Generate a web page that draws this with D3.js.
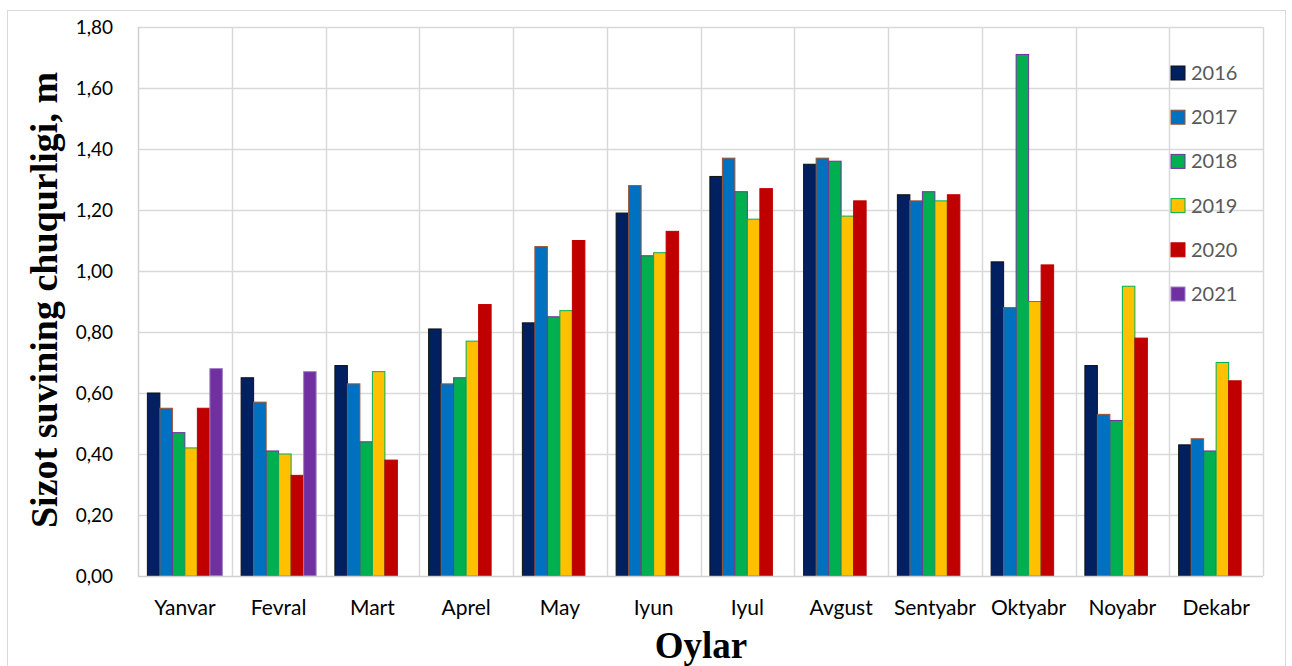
<!DOCTYPE html>
<html>
<head>
<meta charset="utf-8">
<script src="https://cdn.jsdelivr.net/npm/d3@7"></script>
<style>
  body { margin: 0; background: #fff; }
  svg text { font-family: Lato, "Open Sans", sans-serif; }
</style>
</head>
<body>
<svg id="chart" width="1292" height="666"></svg>
<script>
(function() {

const months = ['Yanvar', 'Fevral', 'Mart', 'Aprel', 'May', 'Iyun', 'Iyul', 'Avgust', 'Sentyabr', 'Oktyabr', 'Noyabr', 'Dekabr'];
const years = ['2016', '2017', '2018', '2019', '2020', '2021'];

const v2016 = [0.60, 0.65, 0.69, 0.81, 0.83, 1.19, 1.31, 1.35, 1.25, 1.03, 0.69, 0.43];
const v2017 = [0.55, 0.57, 0.63, 0.63, 1.08, 1.28, 1.37, 1.37, 1.23, 0.88, 0.53, 0.45];
const v2018 = [0.47, 0.41, 0.44, 0.65, 0.85, 1.05, 1.26, 1.36, 1.26, 1.71, 0.51, 0.41];
const v2019 = [0.42, 0.40, 0.67, 0.77, 0.87, 1.06, 1.17, 1.18, 1.23, 0.90, 0.95, 0.70];
const v2020 = [0.55, 0.33, 0.38, 0.89, 1.10, 1.13, 1.27, 1.23, 1.25, 1.02, 0.78, 0.64];
const v2021 = [0.68, 0.67, null, null, null, null, null, null, null, null, null, null];

const yTicks = [0, 0.2, 0.4, 0.6, 0.8, 1.0, 1.2, 1.4, 1.6, 1.8];

const fills = ['#002060', '#0070c0', '#00b050', '#ffc000', '#c00000', '#7030a0'];
const strokes = ['#111111', '#a0522d', '#7030a0', '#00b050', '#c00000', '#9f7fc4'];

const seriesVals = [v2016, v2017, v2018, v2019, v2020, v2021];

var svg = d3.select('#chart');

// outer chart border
svg.append('rect')
    .attr('x', 7.5).attr('y', 10.5)
    .attr('width', 1278).attr('height', 700)
    .attr('fill', 'none')
    .attr('stroke', '#d9d9d9');

var margin = {top: 27, right: 29, bottom: 90, left: 138},
    width = 1292 - margin.left - margin.right,
    height = 666 - margin.top - margin.bottom;

var g = svg.append('g')
    .attr('transform', 'translate(' + margin.left + ',' + margin.top + ')');

var x = d3.scaleBand()
    .domain(months)
    .range([0, width]);

var xs = d3.scaleBand()
    .domain(years)
    .range([0, x.bandwidth()])
    .paddingOuter(0.75);

var y = d3.scaleLinear()
    .domain([0, 1.8])
    .range([height, 0]);

// horizontal grid
g.append('g')
    .selectAll('line')
    .data(yTicks.slice(1))
  .enter().append('line')
    .attr('x1', 0).attr('x2', width)
    .attr('y1', d => Math.round(y(d)) + 0.5)
    .attr('y2', d => Math.round(y(d)) + 0.5)
    .attr('stroke', '#d9d9d9')
    .attr('stroke-width', 1.5);

// vertical grid between months
g.append('g')
    .selectAll('line')
    .data(months.slice(1).concat(['end']))
  .enter().append('line')
    .attr('x1', (d, i) => Math.round(x.step() * (i + 1)) + 0.5)
    .attr('x2', (d, i) => Math.round(x.step() * (i + 1)) + 0.5)
    .attr('y1', 0).attr('y2', height)
    .attr('stroke', '#d9d9d9')
    .attr('stroke-width', 1.5);

// bars
var groups = g.append('g')
    .selectAll('g')
    .data(years)
  .enter().append('g')
    .attr('fill', (d, i) => fills[i])
    .attr('stroke', (d, i) => strokes[i]);

groups.selectAll('rect')
    .data(function(d, i) {
        return months.map(function(m, j) { return {month: m, year: d, value: seriesVals[i][j]}; })
            .filter(r => r.value != null);
    })
  .enter().append('rect')
    .attr('x', d => x(d.month) + xs(d.year))
    .attr('width', xs.bandwidth())
    .attr('y', d => y(d.value))
    .attr('height', d => height - y(d.value))
    .attr('stroke-width', 1);

// axes lines (left & bottom)
g.append('line')
    .attr('x1', 0.5).attr('x2', 0.5)
    .attr('y1', 0).attr('y2', height)
    .attr('stroke', '#d0d0d0').attr('stroke-width', 1.5);
g.append('line')
    .attr('x1', 0).attr('x2', width)
    .attr('y1', height + 0.5).attr('y2', height + 0.5)
    .attr('stroke', '#d0d0d0').attr('stroke-width', 1.5);

// y axis labels
var yAxis = g.append('g')
    .attr('transform', 'translate(-22,0)')
    .call(d3.axisLeft(y).tickValues(yTicks).tickSize(0)
        .tickFormat(d => d3.format('.2f')(d).replace('.', ',')));
yAxis.select('.domain').remove();
yAxis.selectAll('text')
    .attr('font-size', 19)
    .attr('fill', '#000')
    .style('font-family', 'Lato, sans-serif');

// x axis labels
var xAxis = g.append('g')
    .attr('transform', 'translate(0,' + height + ')')
    .call(d3.axisBottom(x).tickSize(0).tickPadding(24));
xAxis.select('.domain').remove();
xAxis.selectAll('text')
    .attr('font-size', 21)
    .attr('fill', '#000')
    .style('font-family', 'Lato, sans-serif');

// axis titles
svg.append('text')
    .attr('transform', 'translate(57,' + 300 + ') rotate(-90)')
    .attr('text-anchor', 'middle')
    .style('font-family', '"Liberation Serif", serif')
    .attr('font-weight', 'bold')
    .attr('font-size', 38)
    .text('Sizot suvining chuqurligi, m');

svg.append('text')
    .attr('x', 701)
    .attr('y', 658)
    .attr('text-anchor', 'middle')
    .style('font-family', '"Liberation Serif", serif')
    .attr('font-weight', 'bold')
    .attr('font-size', 37)
    .text('Oylar');

// legend
var legend = svg.append('g')
    .selectAll('g')
    .data(years)
  .enter().append('g')
    .attr('transform', (d, i) => 'translate(1171,' + (66 + i * 44.2) + ')');

legend.append('rect')
    .attr('width', 14).attr('height', 14)
    .attr('fill', (d, i) => fills[i])
    .attr('stroke', (d, i) => strokes[i])
    .attr('stroke-width', 1);

legend.append('text')
    .attr('x', 20)
    .attr('y', 7)
    .attr('dy', '0.35em')
    .attr('font-size', 20)
    .attr('fill', '#595959')
    .style('font-family', 'Lato, sans-serif')
    .text(d => d);

})();
</script>
</body>
</html>
